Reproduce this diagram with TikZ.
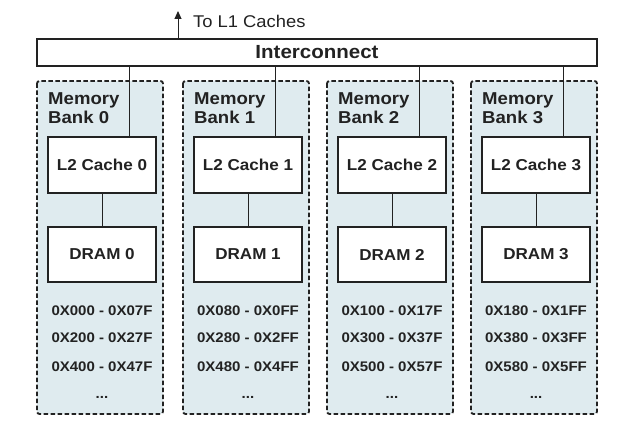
\documentclass[tikz,border=0pt]{standalone}
\usepackage{fontspec}
\setmainfont{Liberation Sans}[FakeStretch=1.08]
\usetikzlibrary{arrows.meta}
\definecolor{bankfill}{HTML}{DFEBEF}
\definecolor{ink}{HTML}{222222}
\begin{document}
\begin{tikzpicture}[x=1pt,y=-1pt,
  every node/.style={text=ink},
  bankbox/.style={draw=ink, line width=1.8pt, dash pattern=on 4.5pt off 2.5pt, rounded corners=2.5pt, fill=bankfill},
  unitbox/.style={draw=ink, line width=1.3pt, fill=white, minimum width=108pt, font=\fontsize{15.8}{19}\selectfont\bfseries, inner sep=0pt},
  banklabel/.style={anchor=north west, align=left, inner sep=0pt, font=\fontsize{17.2}{18.8}\selectfont\bfseries},
  addr/.style={inner sep=0pt, font=\fontsize{13.9}{18}\selectfont\bfseries},
  wire/.style={draw=ink, line width=1pt}
]
\useasboundingbox (0,0) rectangle (634,435);
\node[draw=ink, line width=1.8pt, minimum width=560pt, minimum height=27pt, inner sep=0pt,
  font=\fontsize{19}{21}\selectfont\bfseries] (ic) at (317,52.5) {Interconnect};
\coordinate (l1) at (178,11);
\draw[wire, -{Triangle[length=8pt,width=7pt]}] (ic.north -| l1) -- (l1);
\node[anchor=west, inner sep=0pt, font=\fontsize{17}{20}\selectfont] (l1txt) at (193,21) {To L1 Caches};
\foreach \L/\i/\a/\b/\c in {37/0/{0X000 - 0X07F}/{0X200 - 0X27F}/{0X400 - 0X47F},
                          183/1/{0X080 - 0X0FF}/{0X280 - 0X2FF}/{0X480 - 0X4FF},
                          327/2/{0X100 - 0X17F}/{0X300 - 0X37F}/{0X500 - 0X57F},
                          471/3/{0X180 - 0X1FF}/{0X380 - 0X3FF}/{0X580 - 0X5FF}} {
  \path[bankbox] (\L,81) rectangle (\L+126,414);
  \node[banklabel] (lab\i) at (\L+11,92.5) {Memory\\Bank \i};
  \node[unitbox, minimum height=56pt] (l2\i) at (\L+65,165) {L2 Cache \i};
  \node[unitbox, minimum height=55pt] (dram\i) at (\L+65,254.5) {DRAM \i};
  \coordinate (t\i) at (\L+92,137);
  \draw[wire] (t\i) -- (t\i |- ic.south);
  \draw[wire] (l2\i) -- (dram\i);
  \node[addr] (a\i) at (\L+65,310.3) {\a};
  \node[addr] (b\i) at (\L+65,338) {\b};
  \node[addr] (c\i) at (\L+65,366.3) {\c};
  \node[addr] (d\i) at (\L+65,397.5) {...};
}
\end{tikzpicture}
\end{document}
